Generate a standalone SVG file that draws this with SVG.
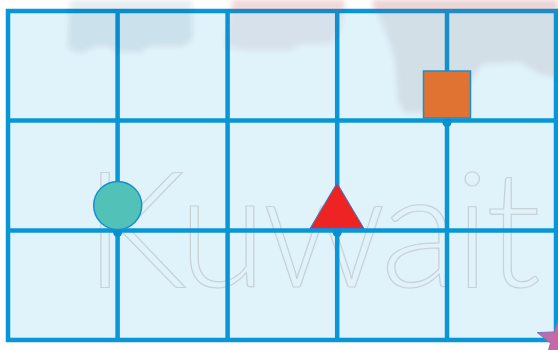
<svg xmlns="http://www.w3.org/2000/svg" width="558" height="350" viewBox="0 0 558 350">
  <defs>
    <filter id="soft" x="-10%" y="-10%" width="120%" height="120%">
      <feGaussianBlur stdDeviation="2.5"/>
    </filter>
    <style>
      .gl { stroke: #0896d7; stroke-width: 4.5; fill: none; }
      .pin { fill: #0a8fd0; }
      .blob { filter: url(#soft); }
      .wm { font-family: "Lato", "DejaVu Sans", sans-serif; font-weight: 300; font-size: 162px; fill: none; stroke: #c8d1d6; stroke-width: 1.2; }
    </style>
  </defs>
  <rect width="558" height="350" fill="#ffffff"/>

  <!-- board background -->
  <rect x="8" y="11" width="548" height="329" fill="#e0f2fa"/>

  <!-- watermark text -->
  <text class="wm" x="84" y="287" textLength="457" lengthAdjust="spacing">Kuwait</text>

  <!-- grid -->
  <g id="grid">
    <rect class="gl" x="8" y="11" width="548" height="329"/>
    <line class="gl" x1="117.6" y1="11" x2="117.6" y2="340"/>
    <line class="gl" x1="227.6" y1="11" x2="227.6" y2="340"/>
    <line class="gl" x1="337.2" y1="11" x2="337.2" y2="340"/>
    <line class="gl" x1="447" y1="11" x2="447" y2="340"/>
    <line class="gl" x1="8" y1="120.5" x2="556" y2="120.5"/>
    <line class="gl" x1="8" y1="230.5" x2="556" y2="230.5"/>
  </g>

  <!-- faded background pictures -->
  <g id="background-pictures" class="blob">
    <path d="M70,0 H192 V40 L182,46 H150 L140,52 H118 L108,46 H96 L80,53 L68,48 Z" fill="#24344f" opacity="0.09"/>
    <path d="M232,0 H345 L340,30 L330,44 H300 L290,50 H250 L225,47 Z" fill="#8a4050" opacity="0.09"/>
    <path d="M372,0 H558 V78 L540,74 L520,62 L482,64 L470,82 L450,100 L436,112 L405,113 L398,100 L395,60 L385,30 Z" fill="#7a5a6e" opacity="0.13"/>
    <path d="M232,0 H345 V10 H232 Z M372,0 H558 V10 H372 Z" fill="#e03030" opacity="0.12"/>
  </g>

  <!-- pins -->
  <g id="pins">
    <circle class="pin" cx="117.6" cy="232.5" r="4.5"/>
    <circle class="pin" cx="337.2" cy="232.5" r="4.5"/>
    <circle class="pin" cx="447" cy="122.5" r="4.5"/>
  </g>

  <g id="circle">
    <circle cx="117.7" cy="205.5" r="24" fill="#52c2b8" stroke="#1a8fd0" stroke-width="1.5"/>
  </g>
  <g id="triangle">
    <polygon points="337,183 310,228.5 364,228.5" fill="#ee2424" stroke="#2a7fd0" stroke-width="1"/>
  </g>
  <g id="square">
    <rect x="423.5" y="71" width="47" height="47" fill="#e07232" stroke="#1a8fd0" stroke-width="1.5"/>
  </g>
  <g id="star">
    <polygon points="560,316 565.9,331.9 582.8,332.6 569.5,343.1 574.1,359.4 560,350 545.9,359.4 550.5,343.1 537.2,332.6 554.1,331.9" fill="#c766a8" stroke="#7a78c0" stroke-width="1"/>
  </g>
</svg>
